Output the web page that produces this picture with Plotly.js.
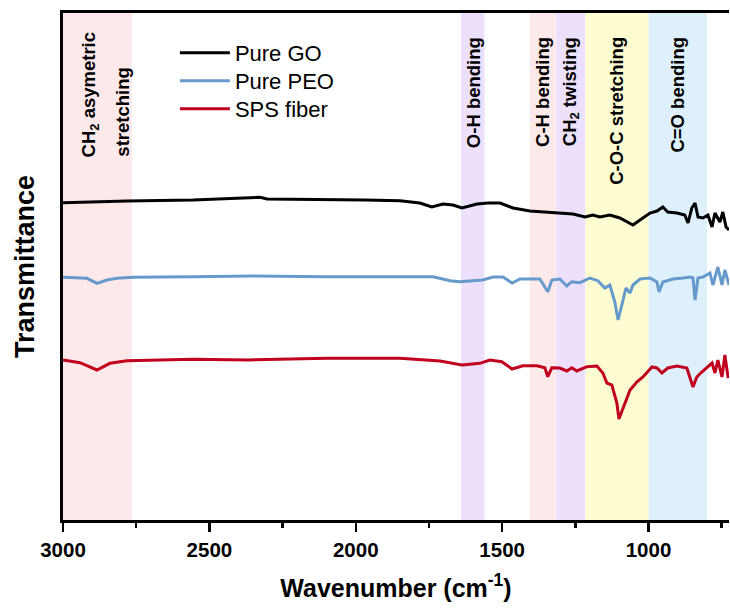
<!DOCTYPE html>
<html>
<head>
<meta charset="utf-8">
<script src="https://cdn.plot.ly/plotly-3.0.1.min.js"></script>
<style>html,body{margin:0;padding:0;background:#fff;}#chart{width:730px;height:608px;}</style>
</head>
<body>
<div id="chart"></div>
<script>
// ---- data (transmittance in arbitrary units) ----
var seriesNames = ["Pure GO", "Pure PEO", "SPS fiber"];

var goWavenumber = [3000, 2898, 2781, 2556, 2368, 2327, 2303, 2098, 1969, 1849, 1781, 1740, 1702, 1668, 1637, 1586, 1548, 1507, 1463, 1405, 1347, 1303, 1258, 1217, 1190, 1166, 1132, 1098, 1053, 1029, 995, 971, 951, 934, 903, 876, 865, 852, 841, 831, 814, 797, 783, 773, 756, 746, 735, 725];
var goValues = [317.3, 318.3, 319, 320, 321.7, 322.7, 321, 320.7, 320, 319.3, 317, 313, 316, 315, 312, 316, 317, 317, 312, 309, 308, 307, 306, 303, 305, 303, 305, 302, 295, 300, 307, 309, 313, 308, 307, 305, 297, 312, 317, 303, 302, 305, 293, 307, 298, 308, 293, 290];

var peoWavenumber = [3000, 2918, 2884, 2850, 2816, 2761, 2556, 2354, 2098, 1849, 1736, 1678, 1644, 1566, 1531, 1497, 1466, 1439, 1371, 1344, 1330, 1303, 1279, 1262, 1234, 1200, 1173, 1149, 1132, 1115, 1104, 1091, 1077, 1063, 1053, 1029, 995, 971, 964, 951, 917, 882, 859, 848, 841, 831, 814, 790, 780, 763, 749, 739, 725];
var peoValues = [242.7, 241.7, 236.7, 240, 241.7, 242.7, 243.3, 244, 243.3, 243.3, 243.3, 239.3, 238.3, 240, 243, 243, 237, 241, 241, 228.3, 240, 241, 234, 238.3, 237.3, 242, 239.3, 232, 235, 218, 200, 215, 232, 227, 235, 241, 242, 238, 228, 238, 241, 242, 243, 242, 220, 242, 243, 247, 235, 253, 235, 250, 235];

var spsWavenumber = [3000, 2942, 2884, 2840, 2781, 2556, 2368, 2098, 1849, 1781, 1712, 1637, 1576, 1542, 1501, 1466, 1429, 1381, 1354, 1344, 1330, 1303, 1279, 1262, 1245, 1210, 1176, 1156, 1142, 1125, 1108, 1101, 1081, 1063, 1040, 1019, 988, 971, 954, 934, 903, 869, 848, 835, 818, 800, 783, 773, 763, 749, 739, 728];
var spsValues = [160, 157.3, 150, 156.7, 159.3, 160.7, 160, 161.7, 161.7, 160, 159, 155, 156.7, 160, 158.3, 151, 154.3, 154.3, 152.3, 143.3, 152.3, 152, 149, 152.3, 149, 153.3, 154, 147, 137, 135, 117, 101, 117, 130, 138, 143, 153, 152, 147, 152, 154, 152, 133, 143, 148, 153, 157, 147, 160, 143, 165, 142];

// shaded vibration bands (wavenumber ranges) and their labels
var bandNames = ["CH<sub>2</sub> asymetric", "O-H bending", "C-H bending", "CH<sub>2</sub> twisting", "C-O-C stretching", "C=O bending"];
var bandStart = [3000, 1640, 1405, 1315, 1215, 1000];
var bandEnd = [2765, 1560, 1315, 1215, 1000, 800];
var bandSecondLine = "stretching";

// axis ranges
var xRange = [3000, 725];
var yRange = [0, 507];

// ---- styles ----
var lineColors = ["#000000", "#6699CC", "#C0001E"];
var bandColors = ["#FDE8EA", "#EDE0FC", "#FDE8EA", "#EDE0FC", "#FEFDD2", "#DDF0FC"];
var FONT = "Arial, 'Liberation Sans', sans-serif";
var legendIds = ["legend", "legend2", "legend3"];
var legendY = [0.9625, 0.9073, 0.8521];

var traces = [
  {x: goWavenumber, y: goValues, name: seriesNames[0]},
  {x: peoWavenumber, y: peoValues, name: seriesNames[1]},
  {x: spsWavenumber, y: spsValues, name: seriesNames[2]}
].map(function (t, i) {
  t.type = "scatter";
  t.mode = "lines";
  t.line = {color: lineColors[i], width: 3};
  t.legend = legendIds[i];
  return t;
});

var shapes = bandNames.map(function (n, i) {
  return {type: "rect", xref: "x", yref: "paper", x0: bandStart[i], x1: bandEnd[i], y0: 0, y1: 1,
          fillcolor: bandColors[i], line: {width: 0}, layer: "below"};
});

var annotations = [];
// CH2 asymmetric stretching: two bottom-aligned lines
annotations.push({xref: "x", yref: "paper", x: 2908, y: 0.712, xanchor: "center", yanchor: "bottom",
  text: "<b>" + bandNames[0] + "</b>", textangle: -90, showarrow: false, font: {family: FONT, size: 18.5, color: "#000"}});
annotations.push({xref: "x", yref: "paper", x: 2798, y: 0.712, xanchor: "center", yanchor: "bottom",
  text: "<b>" + bandSecondLine + "</b>", textangle: -90, showarrow: false, font: {family: FONT, size: 18.5, color: "#000"}});
for (var i = 1; i < bandNames.length; i++) {
  annotations.push({xref: "x", yref: "paper", x: (bandStart[i] + bandEnd[i]) / 2, y: 0.957,
    xanchor: "center", yanchor: "top", text: "<b>" + bandNames[i] + "</b>", textangle: -90,
    showarrow: false, font: {family: FONT, size: 18.5, color: "#000"}});
}

var layout = {
  width: 730, height: 608,
  margin: {l: 63, r: 1, t: 13, b: 88},
  paper_bgcolor: "#ffffff", plot_bgcolor: "#ffffff",
  font: {family: FONT, color: "#000"},
  showlegend: true,
  xaxis: {
    range: xRange, showgrid: false, zeroline: false,
    showline: true, linewidth: 3, linecolor: "#000", mirror: true,
    ticks: "outside", ticklen: 9, tickwidth: 2.5, tickcolor: "#000", dtick: 500, tick0: 0,
    minor: {dtick: 250, ticks: "outside", ticklen: 5, tickwidth: 2.5, tickcolor: "#000", showgrid: false},
    tickfont: {family: FONT, size: 20.5, color: "#000", weight: "bold"},
    title: {text: "<b>Wavenumber (cm<sup>-1</sup>)</b>", font: {family: FONT, size: 25, color: "#000"}, standoff: 20}
  },
  yaxis: {
    range: yRange, showgrid: false, zeroline: false,
    showline: true, linewidth: 3, linecolor: "#000",
    ticks: "", showticklabels: false,
    title: {text: "<b>Transmittance</b>", font: {family: FONT, size: 27, color: "#000"}, standoff: 18}
  },
  shapes: shapes,
  annotations: annotations
};
legendIds.forEach(function (id, i) {
  layout[id] = {x: 0.168, y: legendY[i], xanchor: "left", yanchor: "top", bgcolor: "rgba(0,0,0,0)",
                font: {family: FONT, size: 22, color: "#000"}, itemwidth: 50};
});

Plotly.newPlot("chart", traces, layout, {displayModeBar: false, staticPlot: true});
</script>
</body>
</html>
